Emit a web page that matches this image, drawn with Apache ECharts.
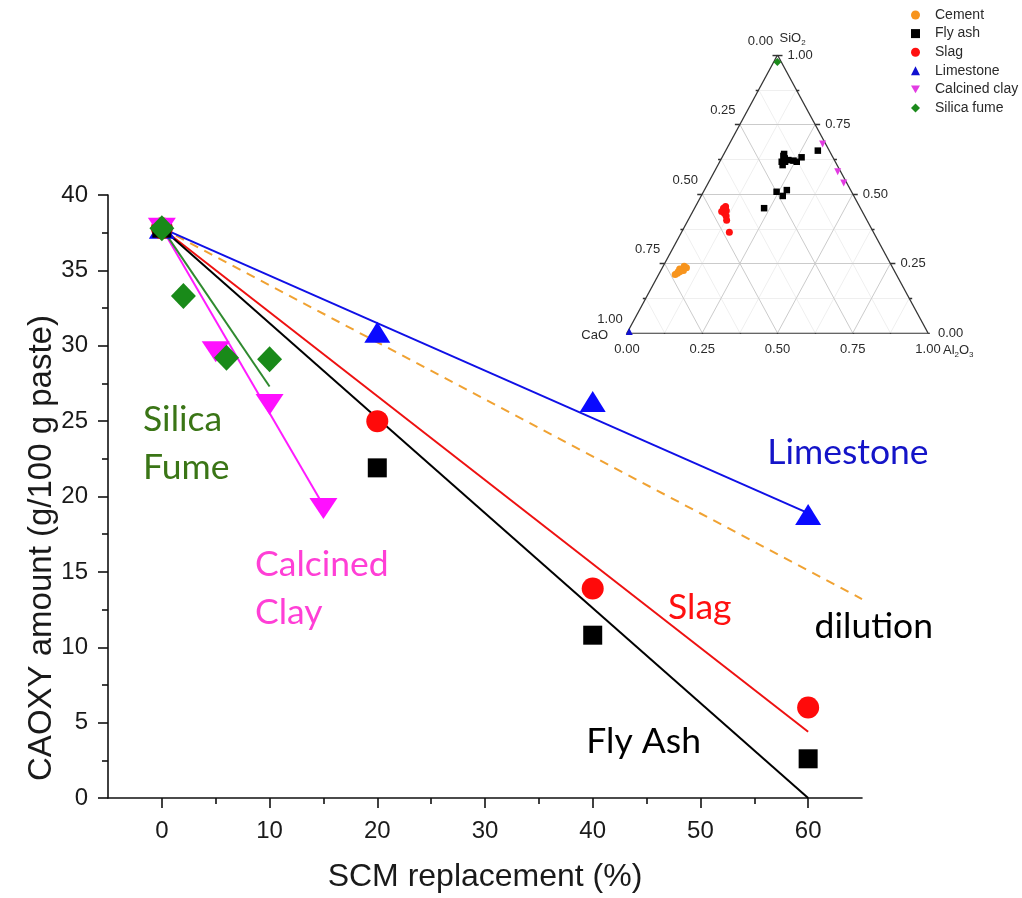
<!DOCTYPE html>
<html>
<head>
<meta charset="utf-8">
<script src="https://cdn.jsdelivr.net/npm/echarts@6/dist/echarts.min.js"></script>
<style>
  html, body { margin: 0; padding: 0; background: #ffffff; }
  #chart { width: 1022px; height: 898px; }
</style>
</head>
<body>
<div id="chart"></div>
<script>
// ---------- Main plot: CAOXY amount vs SCM replacement ----------
const flyAshX = [0, 20, 40, 60];
const flyAshY = [37.8, 21.9, 10.8, 2.6];
const slagX = [0, 20, 40, 60];
const slagY = [37.8, 25.0, 13.9, 6.0];
const limestoneX = [0, 20, 40, 60];
const limestoneY = [37.8, 30.9, 26.3, 18.8];
const clayX = [0, 5, 10, 15];
const clayY = [37.8, 29.6, 26.1, 19.2];
const fumeX = [0, 2, 6, 10];
const fumeY = [37.8, 33.3, 29.2, 29.1];

// Linear trends, as [start, end] points
const flyAshTrend = [[0, 37.8], [60, 0]];
const slagTrend = [[0, 37.8], [60, 4.4]];
const limestoneTrend = [[0, 37.8], [60, 18.9]];
const clayTrend = [[0, 37.8], [15, 19.4]];
const fumeTrend = [[0, 37.8], [10, 27.3]];
const dilutionLine = [[0, 37.8], [65, 13.2]];

const xMajorTicks = [0, 10, 20, 30, 40, 50, 60];
const xMinorTicks = [5, 15, 25, 35, 45, 55];

// Text notes on the main plot
const notes = [
  { text: 'Silica\nFume', x: -1.75, y: 23.5, color: '#3a7516' },
  { text: 'Calcined\nClay', x: 8.65, y: 13.9, color: '#ff3fd6' },
  { text: 'Limestone', x: 56.2, y: 22.9, color: '#1414c8' },
  { text: 'Slag', x: 47.0, y: 12.65, color: '#ff1010' },
  { text: 'dilution', x: 60.6, y: 11.4, color: '#000000' },
  { text: 'Fly Ash', x: 39.4, y: 3.76, color: '#000000' }
];

// ---------- Inset: ternary composition [CaO, SiO2, Al2O3] ----------
const cementOxides = [
  [0.720, 0.220, 0.060], [0.710, 0.230, 0.060], [0.715, 0.220, 0.065],
  [0.700, 0.230, 0.070], [0.725, 0.215, 0.060], [0.690, 0.240, 0.070],
  [0.700, 0.225, 0.075], [0.735, 0.210, 0.055], [0.685, 0.235, 0.080]
];
const flyAshOxides = [
  [0.162, 0.637, 0.201], [0.156, 0.644, 0.200], [0.178, 0.616, 0.206],
  [0.181, 0.604, 0.215], [0.167, 0.616, 0.217], [0.153, 0.622, 0.225],
  [0.137, 0.620, 0.243], [0.128, 0.616, 0.256], [0.104, 0.632, 0.264],
  [0.038, 0.656, 0.306], [0.249, 0.508, 0.243], [0.236, 0.493, 0.271],
  [0.212, 0.514, 0.274], [0.320, 0.449, 0.231], [0.162, 0.628, 0.210]
];
const slagOxides = [
  [0.455, 0.449, 0.096], [0.445, 0.455, 0.100], [0.467, 0.437, 0.096],
  [0.461, 0.431, 0.108], [0.460, 0.421, 0.119], [0.466, 0.406, 0.128],
  [0.479, 0.362, 0.159], [0.450, 0.445, 0.105], [0.450, 0.440, 0.110]
];
const limestoneOxides = [[0.990, 0.005, 0.005]];
const clayOxides = [[0.010, 0.680, 0.310], [0.010, 0.580, 0.410], [0.010, 0.540, 0.450]];
const fumeOxides = [[0.013, 0.975, 0.012]];

const ternMajor = [0.25, 0.5, 0.75];
const ternMinor = [0.125, 0.375, 0.625, 0.875];
const ternLabels = [0, 0.25, 0.5, 0.75, 1];

// ---------- helpers ----------
const pairs = (xs, ys) => xs.map((x, i) => [x, ys[i]]);

// barycentric [CaO, SiO2, Al2O3] -> cartesian (Al2O3 to the right, SiO2 up)
function toXY(c) {
  const s = c[0] + c[1] + c[2];
  const si = c[1] / s, al = c[2] / s;
  return [al + si / 2, si];
}

function isoSegments(levels) {
  const segs = [];
  levels.forEach(v => {
    segs.push({ coords: [toXY([1 - v, v, 0]), toXY([0, v, 1 - v])] });   // SiO2 = v
    segs.push({ coords: [toXY([1 - v, 0, v]), toXY([0, 1 - v, v])] });   // Al2O3 = v
    segs.push({ coords: [toXY([v, 1 - v, 0]), toXY([v, 0, 1 - v])] });   // CaO = v
  });
  return segs;
}

const INSET = { left: 627, top: 55, width: 301, height: 278 };
const pxX = INSET.width, pxY = INSET.height;

function tickSegments() {
  const segs = [];
  for (let k = 0; k <= 8; k++) {
    const v = k / 8;
    const len = (k % 2 === 0) ? 5 : 3;
    // bottom edge (Al2O3), ticks pointing down
    const b = toXY([1 - v, 0, v]);
    segs.push({ coords: [b, [b[0], b[1] - len / pxY]] });
    // right edge (SiO2), ticks pointing right
    const r = toXY([0, v, 1 - v]);
    segs.push({ coords: [r, [r[0] + len / pxX, r[1]]] });
    // left edge (CaO), ticks pointing left
    const l = toXY([1 - v, v, 0]);
    segs.push({ coords: [l, [l[0] - len / pxX, l[1]]] });
  }
  return segs;
}

const frame = [
  { coords: [toXY([1, 0, 0]), toXY([0, 0, 1])] },
  { coords: [toXY([0, 0, 1]), toXY([0, 1, 0])] },
  { coords: [toXY([0, 1, 0]), toXY([1, 0, 0])] }
];

const fmt = v => v.toFixed(2);
const bottomLabels = ternLabels.map(v => [...toXY([1 - v, 0, v]), fmt(v)]);
const rightLabels = ternLabels.map(v => [...toXY([0, v, 1 - v]), fmt(v)]);
const leftLabels = ternLabels.map(v => [...toXY([v, 1 - v, 0]), fmt(v)]);

const T = { xAxisIndex: 2, yAxisIndex: 1 };
const M = { xAxisIndex: 0, yAxisIndex: 0 };
const FONT = 'Liberation Sans, Arial, sans-serif';
const HIDDEN = { color: 'rgba(0,0,0,0)', opacity: 1 };

function ternLabelSeries(data, offset, align) {
  return Object.assign({
    type: 'scatter', silent: true, symbolSize: 0.1,
    itemStyle: HIDDEN,
    data: data,
    label: {
      show: true, position: 'inside', offset: offset, align: align, verticalAlign: 'middle',
      formatter: p => p.value[2], color: '#2a2a2a', fontSize: 13, fontFamily: FONT
    },
    z: 5
  }, T);
}

function ternScatter(name, oxides, symbol, size, color) {
  return Object.assign({
    name: name, type: 'scatter', symbol: symbol, symbolSize: size,
    itemStyle: { color: color, opacity: 1 }, data: oxides.map(toXY), z: 4
  }, T);
}

function trend(points, color, width, type) {
  return Object.assign({
    type: 'line', data: points, symbol: 'none', silent: true,
    lineStyle: { color: color, width: width || 2, type: type || 'solid' }, z: 2
  }, M);
}

function marks(name, xs, ys, symbol, size, color) {
  return Object.assign({
    name: name, type: 'scatter', data: pairs(xs, ys), symbol: symbol, symbolSize: size,
    itemStyle: { color: color, opacity: 1 }, z: 3
  }, M);
}

const downTri = 'path://M0,0 L10,0 L5,8.66 Z';

const chart = echarts.init(document.getElementById('chart'));

chart.setOption({
  animation: false,
  backgroundColor: '#ffffff',
  grid: [
    { left: 108, top: 195, width: 754, height: 609 },
    { left: INSET.left, top: INSET.top, width: INSET.width, height: INSET.height }
  ],
  xAxis: [
    {
      type: 'value', gridIndex: 0, min: -5, max: 65,
      name: 'SCM replacement (%)', nameLocation: 'middle', nameGap: 63,
      nameTextStyle: { fontSize: 32, color: '#1a1a1a', fontFamily: FONT },
      axisLine: { onZero: false, lineStyle: { color: '#111', width: 1.6 } },
      axisTick: { show: true, inside: false, length: 10, customValues: xMajorTicks,
                  lineStyle: { color: '#111', width: 1.6 } },
      axisLabel: { customValues: xMajorTicks, fontSize: 24, color: '#1a1a1a',
                   margin: 21, fontFamily: FONT },
      splitLine: { show: false }
    },
    {
      type: 'value', gridIndex: 0, min: -5, max: 65, position: 'bottom',
      axisLine: { show: false },
      axisTick: { show: true, length: 6, customValues: xMinorTicks,
                  lineStyle: { color: '#111', width: 1.6 } },
      axisLabel: { show: false },
      splitLine: { show: false }
    },
    { type: 'value', gridIndex: 1, min: 0, max: 1, show: false }
  ],
  yAxis: [
    {
      type: 'value', gridIndex: 0, min: 0, max: 40, interval: 5,
      axisLine: { show: true, onZero: false, lineStyle: { color: '#111', width: 1.6 } },
      axisTick: { show: true, length: 10, lineStyle: { color: '#111', width: 1.6 } },
      minorTick: { show: true, splitNumber: 2, length: 6, lineStyle: { color: '#111', width: 1.6 } },
      axisLabel: { fontSize: 24, color: '#1a1a1a', margin: 20, fontFamily: FONT },
      splitLine: { show: false }
    },
    { type: 'value', gridIndex: 1, min: 0, max: 1, show: false }
  ],
  legend: {
    orient: 'vertical', left: 906, top: 3, itemWidth: 9, itemHeight: 9, itemGap: 4.6,
    selectedMode: false,
    textStyle: { fontSize: 14, color: '#2a2a2a', fontFamily: FONT, padding: [0, 0, 0, 10] },
    data: ['Cement', 'Fly ash', 'Slag', 'Limestone', 'Calcined clay', 'Silica fume']
  },
  graphic: [
    {
      type: 'text', x: 42, y: 548, rotation: Math.PI / 2,
      style: {
        text: 'CAOXY amount (g/100 g paste)', fill: '#1a1a1a',
        font: '33px ' + FONT, textAlign: 'center', textVerticalAlign: 'middle'
      }
    }
  ],
  series: [
    // trend lines
    trend(dilutionLine, '#f0a232', 2, [9, 7]),
    trend(limestoneTrend, '#1010e6', 2),
    trend(slagTrend, '#ee1111', 2),
    trend(flyAshTrend, '#000000', 2),
    trend(clayTrend, '#ff1cff', 2),
    trend(fumeTrend, '#2f8a2f', 2),
    // measured points
    marks('Limestone series', limestoneX, limestoneY, 'triangle', [26, 21], '#0a0aff'),
    marks('Slag series', slagX, slagY, 'circle', 22, '#ff0a0a'),
    marks('Fly ash series', flyAshX, flyAshY, 'rect', 19, '#000000'),
    marks('Calcined clay series', clayX, clayY, downTri, [28, 21], '#ff10ff'),
    marks('Silica fume series', fumeX, fumeY, 'diamond', [25, 26], '#198a19'),
    // text notes
    Object.assign({
      type: 'scatter', silent: true, symbolSize: 0.1, itemStyle: HIDDEN,
      data: notes.map(n => ({
        value: [n.x, n.y],
        label: { show: true, formatter: n.text, color: n.color }
      })),
      label: {
        show: true, position: 'inside', align: 'left', verticalAlign: 'middle',
        fontSize: 35.5, lineHeight: 48, fontFamily: 'Lato, sans-serif'
      },
      z: 6
    }, M),

    // ternary inset: grid, frame, ticks
    Object.assign({ type: 'lines', coordinateSystem: 'cartesian2d', silent: true,
      data: isoSegments(ternMinor), lineStyle: { color: '#efefef', width: 1, opacity: 1 }, z: 1 }, T),
    Object.assign({ type: 'lines', coordinateSystem: 'cartesian2d', silent: true,
      data: isoSegments(ternMajor), lineStyle: { color: '#cbcbcb', width: 1, opacity: 1 }, z: 1 }, T),
    Object.assign({ type: 'lines', coordinateSystem: 'cartesian2d', silent: true,
      data: frame.concat(tickSegments()), lineStyle: { color: '#333', width: 1.3, opacity: 1 }, z: 2 }, T),
    ternLabelSeries(bottomLabels, [0, 16], 'center'),
    ternLabelSeries(rightLabels, [10, 0], 'left'),
    ternLabelSeries(leftLabels, [-17, -14], 'center'),
    // apex titles
    Object.assign({
      type: 'scatter', silent: true, symbolSize: 0.1, itemStyle: HIDDEN,
      data: [
        { value: toXY([0, 1, 0]), label: { formatter: 'SiO{s|2}', offset: [2, -17], align: 'left' } },
        { value: toXY([0, 0, 1]), label: { formatter: 'Al{s|2}O{s|3}', offset: [15, 17], align: 'left' } },
        { value: toXY([1, 0, 0]), label: { formatter: 'CaO', offset: [-19, 2], align: 'right' } }
      ],
      label: {
        show: true, position: 'inside', verticalAlign: 'middle', color: '#2a2a2a',
        fontSize: 13, fontFamily: FONT,
        rich: { s: { fontSize: 8, color: '#2a2a2a', padding: [9, 0, 0, 0], fontFamily: FONT } }
      },
      z: 5
    }, T),
    // ternary points
    ternScatter('Cement', cementOxides, 'circle', 7, '#f7941d'),
    ternScatter('Fly ash', flyAshOxides, 'rect', 6.5, '#000000'),
    ternScatter('Slag', slagOxides, 'circle', 7, '#ff1010'),
    ternScatter('Limestone', limestoneOxides, 'triangle', 7, '#1010d0'),
    ternScatter('Calcined clay', clayOxides, downTri, 7, '#e23ce2'),
    ternScatter('Silica fume', fumeOxides, 'diamond', 8, '#1b8a1b')
  ]
});
</script>
</body>
</html>
